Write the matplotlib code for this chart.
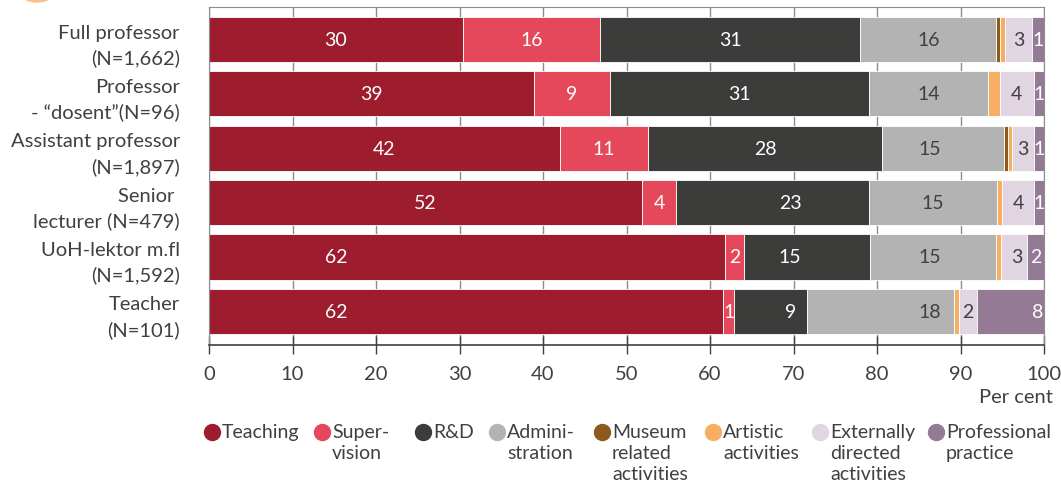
import matplotlib.pyplot as plt
import numpy as np
from matplotlib.lines import Line2D
from matplotlib.patches import Ellipse

plt.rcParams['font.family'] = ['Lato', 'DejaVu Sans']

groups = ['Full professor\n(N=1,662)', 'Professor\n- \u201cdosent\u201d(N=96)', 'Assistant professor\n(N=1,897)',
          'Senior \nlecturer (N=479)', 'UoH-lektor m.fl\n(N=1,592)', 'Teacher\n(N=101)']
categories = ['Teaching', 'Super-\nvision', 'R&D', 'Admini-\nstration', 'Museum\nrelated\nactivities',
              'Artistic\nactivities', 'Externally\ndirected\nactivities', 'Professional\npractice']
colors = ['#9D1D2F', '#E6485B', '#3C3C3B', '#B3B3B3', '#8C5A1E', '#F7AE62', '#E2D5E2', '#957A96']
label_colors = ['white', 'white', 'white', '#404040', None, None, '#404040', 'white']

teaching = [30.4, 38.9, 42.0, 51.9, 61.8, 61.6]
supervision = [16.4, 9.1, 10.6, 4.0, 2.3, 1.3]
rnd = [31.2, 31.0, 28.0, 23.1, 15.1, 8.7]
administration = [16.3, 14.3, 14.6, 15.4, 15.1, 17.6]
museum = [0.4, 0.0, 0.5, 0.0, 0.0, 0.0]
artistic = [0.6, 1.4, 0.5, 0.6, 0.5, 0.6]
external = [3.3, 4.1, 2.6, 3.8, 3.2, 2.2]
professional = [1.4, 1.2, 1.2, 1.2, 2.0, 8.0]

series = [teaching, supervision, rnd, administration, museum, artistic, external, professional]

# label positions that the original moved away from the segment centre
label_x = {(4, 0): 15.2, (5, 0): 15.2, (3, 2): 69.6, (4, 2): 69.6, (5, 2): 69.6,
           (2, 3): 86.3, (4, 3): 86.3, (5, 3): 86.3, (4, 6): 96.8, (5, 7): 99.2}

fig = plt.figure(figsize=(10.61, 4.85), dpi=100)
ax = fig.add_axes([209 / 1061, 1 - 346 / 485, 835 / 1061, 338 / 485])

y = np.arange(len(groups))
left = np.zeros(len(groups))
for j, vals in enumerate(series):
    vals = np.array(vals)
    ax.barh(y, vals, left=left, height=0.83, color=colors[j], edgecolor='white', linewidth=0.6, zorder=2)
    if label_colors[j] is not None:
        for i, v in enumerate(vals):
            if v <= 0:
                continue
            x = label_x.get((i, j), left[i] + v / 2)
            ax.text(x, y[i], f"{v:.0f}", ha='center', va='center', color=label_colors[j],
                    fontsize=14, zorder=3)
    left += vals

ax.set_xlim(0, 100)
ax.set_ylim(5.62, -0.6)
ax.set_xticks(np.arange(0, 101, 10))
ax.set_yticks(y)
ax.set_yticklabels(groups, fontsize=14.5, color='#404040', linespacing=1.5)
ax.tick_params(axis='y', length=0, pad=21)
ax.tick_params(axis='x', direction='inout', length=12.5, width=1, color='#404040',
               labelsize=14.5, labelcolor='#404040', pad=8)
ax.grid(axis='x', color='#8c8c8c', linewidth=1, zorder=0)
ax.set_axisbelow(True)
for s in ['top', 'right', 'left']:
    ax.spines[s].set_color('#8c8c8c')
ax.spines['bottom'].set_color('#404040')
ax.spines['bottom'].set_linewidth(1.2)

fig.text(1053 / 1061, 1 - 403 / 485, 'Per cent', ha='right', va='baseline', fontsize=14.5, color='#404040')

# legend drawn by hand so multi-line labels hang from the first line
legend_x = [212, 322, 423, 497, 602, 713, 820, 936]
for cx, name, c in zip(legend_x, categories, colors):
    fig.add_artist(Line2D([cx / 1061], [1 - 433 / 485], marker='o', markersize=11.5, color=c,
                          linestyle='none', transform=fig.transFigure))
    fig.text((cx + 10) / 1061, 1 - 424 / 485, name, ha='left', va='top', fontsize=14,
             color='#404040', linespacing=1.3)

# decorative circle cut by the top edge
fig.add_artist(Ellipse((37 / 1061, 1 + 24.5 / 485), 55 / 1061, 55 / 485, color='#F9C08A',
                       transform=fig.transFigure, clip_on=False))

fig.savefig('out.png', dpi=100)
